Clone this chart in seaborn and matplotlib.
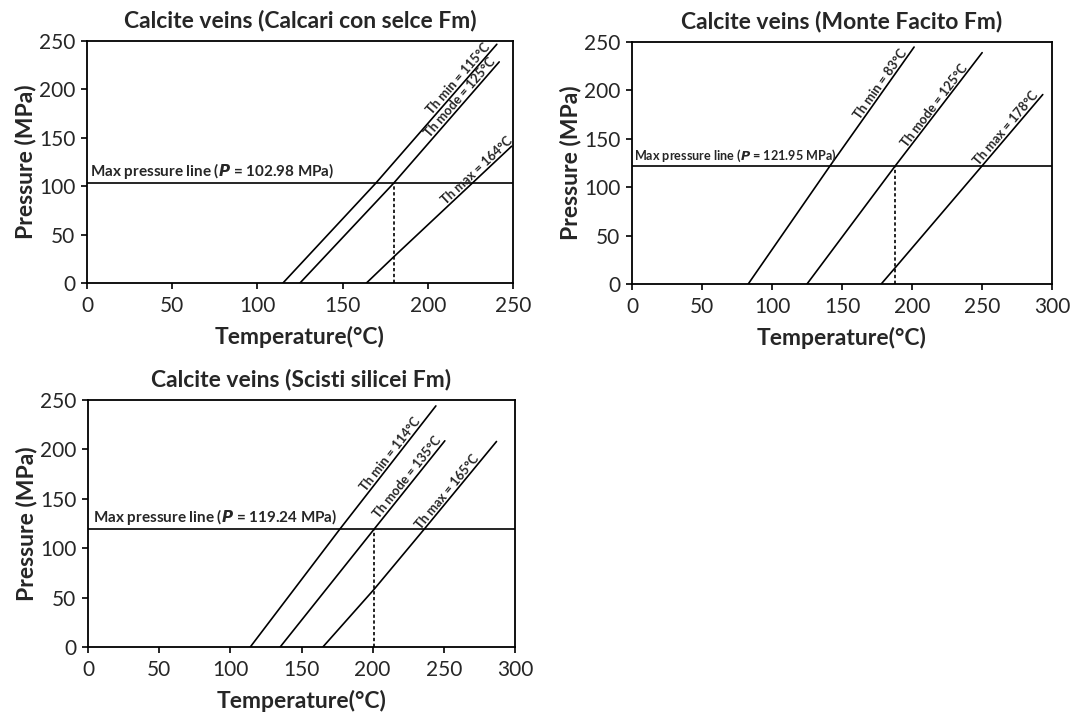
import numpy as np
import pandas as pd
import matplotlib
matplotlib.use("Agg")
import matplotlib.pyplot as plt
import seaborn as sns

# ── Data ─────────────────────────────────────────────────────────────────────
TITLES = [
    "Calcite veins (Calcari con selce Fm)",
    "Calcite veins (Monte Facito Fm)",
    "Calcite veins (Scisti silicei Fm)",
]
X_MAX = [250, 300, 300]
X_TICKS = [[0, 50, 100, 150, 200, 250],
           [0, 50, 100, 150, 200, 250, 300],
           [0, 50, 100, 150, 200, 250, 300]]
Y_TICKS = [0, 50, 100, 150, 200, 250]

P_MAX = [102.98, 121.95, 119.24]
T_MODE_AT_PMAX = [180, 188, 201]

# isochores, panel 1
p1_min_T = [115, 169.4, 240.5]
p1_min_P = [0, 102.98, 246.6]
p1_mode_T = [125, 179.9, 241.9]
p1_mode_P = [0, 102.98, 228.4]
p1_max_T = [164, 180, 249.2]
p1_max_P = [0, 27, 141.3]

# isochores, panel 2
p2_min_T = [83, 141.4, 201.5]
p2_min_P = [0, 121.95, 244.8]
p2_mode_T = [125, 188, 250.1]
p2_mode_P = [0, 121.95, 239]
p2_max_T = [178, 188, 250, 293.4]
p2_max_P = [0, 16.8, 121.95, 195.7]

# isochores, panel 3
p3_min_T = [114, 176.9, 244.4]
p3_min_P = [0, 119.24, 244]
p3_mode_T = [135, 201, 250.7]
p3_mode_P = [0, 119.24, 208.7]
p3_max_T = [165, 201, 236.2, 287]
p3_max_P = [0, 58.4, 119.24, 208]

LINE_LABELS = [
    ["Th min = 115°C", "Th mode = 125°C", "Th max = 164°C"],
    ["Th min = 83°C", "Th mode = 125°C", "Th max = 178°C"],
    ["Th min = 114°C", "Th mode = 135°C", "Th max = 165°C"],
]
# temperature where each line label ends (label sits on its line)
LABEL_END_T = [[238, 241, 251], [198, 241, 292], [235, 250, 276]]

PANELS = [
    [(p1_min_T, p1_min_P), (p1_mode_T, p1_mode_P), (p1_max_T, p1_max_P)],
    [(p2_min_T, p2_min_P), (p2_mode_T, p2_mode_P), (p2_max_T, p2_max_P)],
    [(p3_min_T, p3_min_P), (p3_mode_T, p3_mode_P), (p3_max_T, p3_max_P)],
]

# ── Figure ──────────────────────────────────────────────────────────────────
sns.set_style("white")
plt.rcParams["font.family"] = ["Lato", "DejaVu Sans"]

W, H = 1074, 715
fig = plt.figure(figsize=(W / 100, H / 100), dpi=100)

# axes boxes in pixels: left, right, top, bottom
BOXES = [(87, 513, 41, 283), (632, 1052, 42, 284), (88, 515, 400, 647)]
MAXP_SIZE = [11, 9.1, 11]
LBL_SIZE = [9.3, 9.3, 9.3]

for i in range(3):
    l, r, t, b = BOXES[i]
    ax = fig.add_axes([l / W, (H - b) / H, (r - l) / W, (b - t) / H])
    ax.set_xlim(0, X_MAX[i])
    ax.set_ylim(0, 250)

    for (T, P) in PANELS[i]:
        df = pd.DataFrame({"T": T, "P": P})
        sns.lineplot(data=df, x="T", y="P", sort=False, color="black",
                     linewidth=1.2, ax=ax)

    ax.axhline(P_MAX[i], color="black", linewidth=1.2)
    ax.plot([T_MODE_AT_PMAX[i], T_MODE_AT_PMAX[i]], [0, P_MAX[i]],
            color="black", linewidth=1.2, linestyle=(0, (2, 1.5)))

    ax.text(1.5 if i < 2 else 3.5, P_MAX[i] + 2.5,
            r"Max pressure line ($\mathbfit{P}$ = %.2f MPa)" % P_MAX[i],
            fontsize=MAXP_SIZE[i], fontweight="bold", ha="left", va="bottom")

    # rotated labels on the isochores
    for k, (T, P) in enumerate(PANELS[i]):
        te = LABEL_END_T[i][k]
        pe = np.interp(te, T, P)
        if te > T[-1]:
            pe = P[-1] + (te - T[-1]) * (P[-1] - P[-2]) / (T[-1] - T[-2])
        p0 = ax.transData.transform((T[-2], P[-2]))
        p1 = ax.transData.transform((T[-1], P[-1]))
        ang = np.degrees(np.arctan2(p1[1] - p0[1], p1[0] - p0[0]))
        ax.text(te, pe, LINE_LABELS[i][k], rotation=ang, rotation_mode="anchor",
                ha="right", va="bottom", fontsize=LBL_SIZE[i], fontweight="bold",
                clip_on=False)

    ax.set_xticks(X_TICKS[i])
    ax.set_yticks(Y_TICKS)
    ax.tick_params(axis="both", direction="out", length=4, width=1.2,
                   color="black", labelsize=15)
    ax.tick_params(axis="x", pad=5.5, bottom=True)
    ax.tick_params(axis="y", pad=4.5, left=True)
    for sp in ax.spines.values():
        sp.set_color("black")
        sp.set_linewidth(1.3)

    ax.set_title(TITLES[i], fontsize=16.5, fontweight="bold", pad=10)
    ax.set_xlabel("Temperature(°C)", fontsize=16.5, fontweight="bold", labelpad=7)
    ax.set_ylabel("Pressure (MPa)", fontsize=16.5, fontweight="bold", labelpad=1.5)

fig.savefig("out.png", dpi=100)
